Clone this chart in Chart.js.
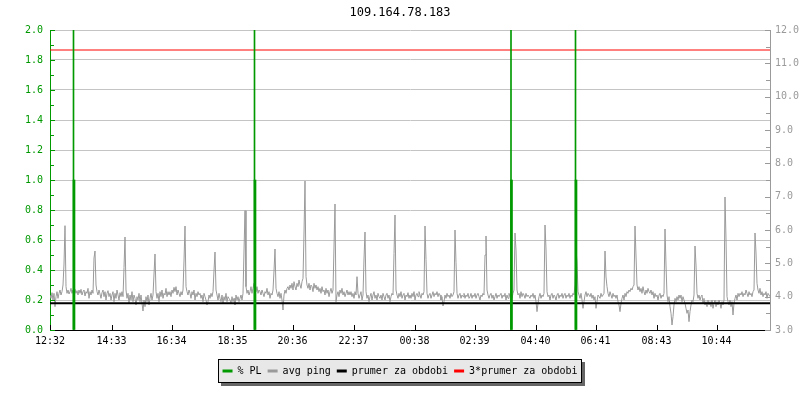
<!DOCTYPE html>
<html>
<head>
<meta charset="utf-8">
<script src="https://cdn.jsdelivr.net/npm/chart.js@4"></script>
<style>
  body { margin: 0; background: #fff; }
</style>
</head>
<body>
<canvas id="myChart" width="800" height="400"></canvas>
<script>
const chartTitle = '109.164.78.183';

// x axis: minutes from 12:32, one day
const xMax = 1440;
const xTickMinutes = [0, 123, 243, 365, 485, 607, 729, 849, 971, 1091, 1213, 1333];
const xTickLabels = ['12:32', '14:33', '16:34', '18:35', '20:36', '22:37', '00:38', '02:39', '04:40', '06:41', '08:43', '10:44'];

// avg ping [ms], one sample every 2 minutes (one line = one hour)
const pingStep = 2;
const avgPing = [
  4.05, 3.95, 4.12, 3.9, 4.1, 3.7, 4.0, 4.15, 3.95, 4.1, 4.2, 4.05, 4.15, 4.35, 4.98, 6.13, 4.3, 4.1, 4.2, 4.08, 4.15, 4.25, 4.1, 4.2, 4.12, 4.22, 4.1, 4.18, 4.05, 4.2,
  4.1, 4.22, 4.05, 4.15, 4.2, 4.02, 4.15, 4.1, 4.25, 3.95, 4.15, 4.05, 4.2, 4.1, 5.16, 5.37, 4.35, 4.15, 4.05, 4.2, 4.08, 3.95, 4.12, 4.2, 4.0, 4.15, 3.9, 4.1, 4.18, 4.0,
  4.1, 3.9, 4.05, 4.15, 3.85, 4.1, 3.95, 4.2, 4.05, 3.9, 4.12, 4.0, 4.15, 4.0, 4.87, 5.79, 4.2, 3.95, 4.1, 3.8, 4.05, 3.9, 4.15, 3.85, 4.05, 3.95, 3.75, 4.0, 3.9, 4.1,
  3.85, 4.05, 3.8, 3.57, 3.9, 3.7, 4.0, 3.85, 4.05, 3.75, 3.95, 4.1, 3.9, 4.05, 4.68, 5.28, 4.15, 3.95, 4.1, 3.85, 4.15, 4.0, 4.2, 3.95, 4.1, 4.05, 4.25, 4.0, 4.15, 4.05,
  4.15, 4.0, 4.2, 4.1, 4.28, 4.15, 4.3, 4.05, 4.2, 4.1, 4.0, 4.15, 4.05, 4.2, 5.07, 6.12, 4.3, 4.15, 4.05, 4.2, 4.1, 3.95, 4.15, 4.05, 4.2, 3.9, 4.1, 4.0, 4.15, 4.05,
  4.1, 3.95, 4.05, 3.85, 4.1, 4.0, 3.9, 3.75, 3.85, 4.05, 3.95, 4.1, 4.0, 4.15, 4.78, 5.34, 4.2, 4.05, 3.9, 4.1, 3.95, 3.85, 4.05, 3.8, 4.0, 3.9, 4.1, 3.85, 4.0, 3.95,
  3.9, 3.8, 4.0, 3.85, 3.95, 3.75, 4.05, 3.9, 4.0, 3.85, 3.95, 4.05, 3.9, 4.1, 5.37, 6.58, 4.3, 4.1, 4.2, 4.05, 4.15, 4.3, 4.1, 4.25, 4.4, 4.2, 4.15, 4.3, 4.1, 4.2,
  4.15, 4.05, 4.2, 4.1, 4.0, 4.15, 4.1, 4.25, 4.05, 4.15, 3.95, 4.1, 4.05, 4.2, 4.77, 5.43, 4.25, 4.1, 4.0, 4.15, 3.95, 4.1, 3.9, 3.6, 4.05, 4.2, 4.1, 4.25, 4.3, 4.2,
  4.35, 4.25, 4.4, 4.2, 4.45, 4.3, 4.2, 4.4, 4.3, 4.5, 4.35, 4.25, 4.45, 4.55, 5.91, 7.47, 4.6, 4.35, 4.25, 4.4, 4.2, 4.35, 4.3, 4.15, 4.4, 4.25, 4.35, 4.2, 4.3, 4.15,
  4.25, 4.1, 4.3, 4.15, 4.2, 4.05, 4.25, 4.1, 4.2, 4.0, 4.15, 4.25, 4.1, 4.2, 5.49, 6.78, 3.85, 4.05, 4.15, 4.0, 4.2, 4.1, 4.25, 4.05, 4.15, 4.0, 4.1, 4.2, 4.05, 4.15,
  4.05, 4.15, 4.0, 4.1, 3.95, 4.15, 4.05, 4.6, 4.1, 3.95, 4.05, 4.15, 3.9, 4.05, 5.13, 5.94, 4.15, 3.95, 4.05, 3.85, 4.0, 4.1, 3.9, 4.05, 4.15, 3.95, 4.05, 3.9, 4.1, 4.0,
  3.95, 4.05, 3.9, 4.1, 4.0, 3.9, 4.05, 4.1, 3.95, 4.05, 3.85, 4.0, 4.1, 4.05, 5.29, 6.45, 4.2, 4.05, 3.95, 4.1, 4.0, 4.15, 3.95, 4.05, 4.1, 3.9, 4.05, 4.0, 4.12, 3.95,
  4.05, 3.95, 4.1, 4.0, 4.15, 3.9, 4.05, 4.1, 4.0, 4.15, 4.05, 3.95, 4.1, 4.05, 4.15, 6.12, 5.12, 4.1, 3.95, 4.05, 4.1, 3.95, 4.05, 4.15, 4.0, 4.1, 4.05, 4.15, 4.0, 4.1,
  4.05, 3.9, 4.0, 3.72, 3.85, 4.05, 3.95, 4.1, 4.0, 4.05, 3.95, 4.1, 4.0, 4.05, 4.15, 6.0, 5.02, 4.1, 3.95, 4.05, 4.1, 3.95, 4.05, 4.0, 4.1, 3.95, 4.05, 4.0, 4.1, 3.95,
  4.0, 4.1, 3.95, 4.05, 4.0, 4.1, 3.95, 4.05, 4.1, 4.0, 3.9, 4.05, 4.0, 4.1, 4.05, 5.25, 5.82, 4.2, 4.05, 3.95, 4.05, 4.1, 3.95, 4.05, 3.9, 4.0, 4.1, 3.95, 4.05, 4.0,
  4.05, 4.1, 3.95, 4.05, 4.0, 4.1, 3.9, 4.05, 3.95, 4.1, 4.0, 4.05, 3.95, 4.1, 4.2, 5.91, 5.4, 4.2, 4.05, 4.1, 3.95, 4.15, 4.0, 4.1, 4.05, 3.95, 4.1, 4.0, 4.05, 4.0,
  3.95, 4.05, 4.0, 4.1, 3.95, 4.05, 3.85, 3.55, 3.8, 4.0, 4.1, 3.95, 4.05, 4.0, 4.1, 6.15, 5.43, 4.15, 4.0, 4.05, 3.9, 4.05, 4.1, 3.95, 4.05, 4.0, 3.9, 4.05, 4.1, 3.95,
  4.05, 4.0, 4.1, 3.95, 4.05, 4.1, 3.95, 4.05, 4.0, 4.1, 3.95, 4.05, 4.0, 4.1, 4.05, 4.35, 5.43, 5.04, 4.15, 4.05, 3.95, 4.1, 3.9, 3.65, 3.85, 4.05, 4.15, 4.0, 4.1, 4.05,
  4.0, 4.1, 3.95, 4.05, 3.9, 4.0, 3.65, 3.85, 4.05, 4.0, 3.95, 4.1, 4.0, 4.05, 4.1, 5.37, 4.59, 4.3, 4.1, 4.0, 4.15, 4.05, 3.95, 4.1, 4.0, 4.05, 3.95, 4.05, 3.85, 3.75,
  3.55, 3.8, 3.95, 4.05, 3.9, 4.1, 4.0, 4.15, 4.1, 4.2, 4.15, 4.25, 4.2, 4.3, 4.35, 6.12, 5.22, 4.35, 4.2, 4.3, 4.15, 4.25, 4.1, 4.3, 4.15, 4.05, 4.2, 4.1, 4.25, 4.15,
  4.1, 4.2, 4.05, 4.15, 3.95, 4.1, 4.0, 4.05, 3.9, 4.05, 4.1, 3.95, 4.05, 4.0, 4.1, 6.03, 4.95, 4.05, 3.85, 4.0, 3.7, 3.5, 3.15, 3.4, 3.75, 3.95, 3.85, 4.0, 3.9, 4.05,
  3.95, 4.05, 3.85, 4.0, 3.9, 3.8, 3.65, 3.5, 3.6, 3.25, 3.55, 3.75, 3.9, 3.85, 4.05, 5.52, 4.95, 4.1, 3.95, 4.05, 3.9, 4.0, 4.05, 3.8, 3.95, 3.75, 3.85, 3.7, 3.9, 3.75,
  3.85, 3.7, 3.9, 3.65, 3.8, 3.9, 3.7, 3.85, 3.75, 3.9, 3.8, 3.65, 3.85, 3.75, 3.9, 6.99, 5.73, 4.0, 3.85, 3.75, 3.9, 3.7, 3.85, 3.45, 3.8, 3.95, 4.05, 3.9, 4.1, 4.0,
  4.1, 4.05, 4.15, 4.0, 4.1, 4.05, 4.2, 4.1, 4.0, 4.15, 4.05, 4.1, 4.0, 4.15, 4.2, 5.91, 5.31, 4.4, 4.2, 4.1, 4.25, 4.05, 4.15, 4.0, 4.1, 4.05, 4.15, 3.95, 4.1, 4.05,
  4.0
];

// % PL samples (minutes, value) and the thin rule above each of them
const plTimes = [48, 410, 923, 1052];
const plValues = [1, 1, 1, 1];
const plRuleTimes = [47, 409, 922, 1051];
const plRule = [2, 2, 2, 2];

// period average lines [ms]
const edgeTimes = [0, xMax];
const prumer = [3.8, 3.8];
const prumer3 = [11.4, 11.4];

const legendNames = ['% PL', 'avg ping', 'prumer za obdobi', '3*prumer za obdobi'];

const green = '#009a00';
const grey = '#9a9a9a';
const monoFont = 'DejaVu Sans Mono';

function pairs(xs, ys) {
    return xs.map((x, i) => ({ x: x, y: ys[i] }));
}

// tick marks drawn inside the plot, like rrdtool does
const innerTicks = {
    id: 'innerTicks',
    afterDraw(chart) {
        const { ctx, scales: { x, y, y2 } } = chart;
        ctx.save();
        ctx.lineWidth = 1;

        ctx.strokeStyle = green;
        ctx.beginPath();
        y.ticks.forEach((t, i) => {
            const py = Math.round(y.getPixelForValue(t.value)) + 0.5;
            ctx.moveTo(y.right, py);
            ctx.lineTo(y.right + 5, py);
            if (i < y.ticks.length - 1) {
                const my = Math.round(y.getPixelForValue((t.value + y.ticks[i + 1].value) / 2)) + 0.5;
                ctx.moveTo(y.right, my);
                ctx.lineTo(y.right + 4, my);
            }
        });
        ctx.stroke();

        ctx.strokeStyle = grey;
        ctx.beginPath();
        y2.ticks.forEach((t, i) => {
            const py = Math.round(y2.getPixelForValue(t.value)) + 0.5;
            ctx.moveTo(y2.left, py);
            ctx.lineTo(y2.left - 5, py);
            if (i < y2.ticks.length - 1) {
                const my = Math.round(y2.getPixelForValue((t.value + y2.ticks[i + 1].value) / 2)) + 0.5;
                ctx.moveTo(y2.left, my);
                ctx.lineTo(y2.left - 4, my);
            }
        });
        ctx.stroke();

        ctx.strokeStyle = '#000';
        ctx.beginPath();
        x.ticks.forEach((t) => {
            const px = Math.round(x.getPixelForValue(t.value)) + 0.5;
            ctx.moveTo(px, x.top);
            ctx.lineTo(px, x.top - 5);
        });
        ctx.stroke();
        ctx.restore();
    }
};

// grey box with shadow behind the legend
const legendBox = {
    id: 'legendBox',
    beforeDraw(chart) {
        const boxes = chart.legend.legendHitBoxes;
        if (!boxes || !boxes.length) return;
        const ctx = chart.ctx;
        const left = Math.round(Math.min(...boxes.map(b => b.left))) - 5;
        const right = Math.round(Math.max(...boxes.map(b => b.left + b.width))) + 5;
        const top = Math.round(boxes[0].top) - 7;
        const bottom = Math.round(boxes[0].top + boxes[0].height) + 7;
        ctx.save();
        ctx.fillStyle = '#666';
        ctx.fillRect(left + 3, top + 3, right - left, bottom - top);
        ctx.fillStyle = '#e8e8e8';
        ctx.fillRect(left, top, right - left, bottom - top);
        ctx.strokeStyle = '#000';
        ctx.lineWidth = 1;
        ctx.strokeRect(left + 0.5, top + 0.5, right - left - 1, bottom - top - 1);
        ctx.restore();
    }
};

const ctx = document.getElementById('myChart');

const myChart = new Chart(ctx, {
    type: 'line',
    data: {
        datasets: [{
            type: 'bar',
            label: legendNames[0],
            data: pairs(plTimes, plValues),
            backgroundColor: green,
            borderColor: green,
            borderWidth: 0,
            barThickness: 2,
            grouped: false,
            yAxisID: 'y',
            order: 0
        }, {
            label: legendNames[1],
            data: avgPing.map((v, i) => ({ x: i * pingStep, y: v })),
            borderColor: grey,
            backgroundColor: grey,
            borderWidth: 1,
            pointRadius: 0,
            tension: 0,
            yAxisID: 'y2',
            order: 3
        }, {
            label: legendNames[2],
            data: pairs(edgeTimes, prumer),
            borderColor: '#000',
            backgroundColor: '#000',
            borderWidth: 2,
            pointRadius: 0,
            yAxisID: 'y2',
            order: 1
        }, {
            label: legendNames[3],
            data: pairs(edgeTimes, prumer3),
            borderColor: '#ff0000',
            backgroundColor: '#ff0000',
            borderWidth: 1,
            pointRadius: 0,
            yAxisID: 'y2',
            order: 2
        }, {
            type: 'bar',
            label: 'pl rule',
            data: pairs(plRuleTimes, plRule),
            backgroundColor: green,
            borderWidth: 0,
            barThickness: 1,
            grouped: false,
            yAxisID: 'y',
            order: 0
        }]
    },
    options: {
        responsive: false,
        animation: false,
        events: [],
        layout: { padding: { left: 0, right: 0, top: 0, bottom: 14 } },
        plugins: {
            title: {
                display: true,
                text: chartTitle,
                color: '#000',
                font: { family: monoFont, size: 12, weight: 'normal' },
                padding: { top: 6, bottom: 9.6 }
            },
            legend: {
                position: 'bottom',
                labels: {
                    color: '#000',
                    font: { family: monoFont, size: 10 },
                    boxWidth: 10,
                    boxHeight: 3,
                    padding: 6,
                    generateLabels: (chart) => legendNames.map((name, i) => ({
                        text: name,
                        fillStyle: chart.data.datasets[i].borderColor,
                        strokeStyle: chart.data.datasets[i].borderColor,
                        lineWidth: 0,
                        datasetIndex: i,
                        hidden: false
                    }))
                }
            },
            tooltip: { enabled: false }
        },
        scales: {
            x: {
                type: 'linear',
                min: 0,
                max: xMax,
                offset: false,
                grid: { display: false, drawTicks: false },
                border: { color: '#000' },
                afterBuildTicks: (scale) => {
                    scale.ticks = xTickMinutes.map(v => ({ value: v }));
                },
                afterFit: (scale) => { scale.height = 30; },
                ticks: {
                    autoSkip: false,
                    maxRotation: 0,
                    padding: 5,
                    color: '#000',
                    font: { family: monoFont, size: 10 },
                    callback: (v, i) => xTickLabels[i]
                }
            },
            y: {
                position: 'left',
                min: 0,
                max: 2,
                grid: { color: '#c4c4c4', drawTicks: false },
                border: { color: green },
                afterFit: (scale) => { scale.width = 50; },
                ticks: {
                    stepSize: 0.2,
                    padding: 7,
                    color: green,
                    font: { family: monoFont, size: 10 },
                    callback: (v) => v.toFixed(1)
                }
            },
            y2: {
                position: 'right',
                min: 3,
                max: 12,
                grid: { display: false, drawTicks: false },
                border: { color: grey },
                afterFit: (scale) => { scale.width = 30; },
                ticks: {
                    stepSize: 1,
                    padding: 5,
                    color: grey,
                    font: { family: monoFont, size: 10 },
                    callback: (v) => v.toFixed(1)
                }
            }
        }
    },
    plugins: [legendBox, innerTicks]
});
</script>
</body>
</html>
